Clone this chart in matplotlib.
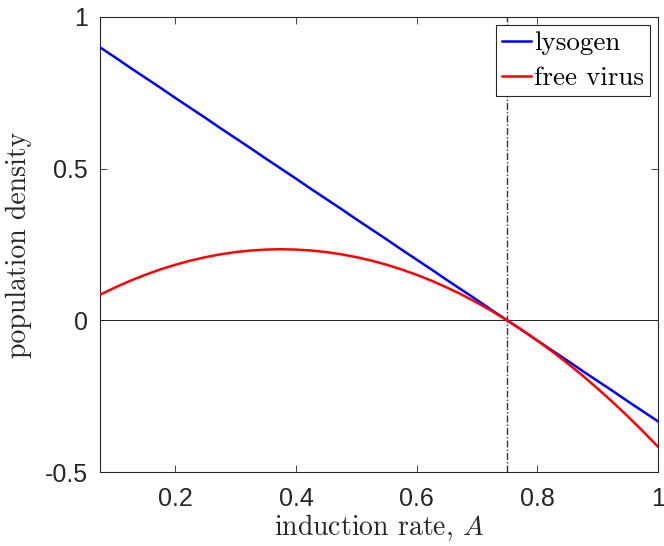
import matplotlib
matplotlib.use("Agg")
import matplotlib.pyplot as plt

# induction rate samples
induction_rate = [0.075, 0.1, 0.125, 0.15, 0.175, 0.2, 0.225, 0.25, 0.275, 0.3,
                  0.325, 0.35, 0.375, 0.4, 0.425, 0.45, 0.475, 0.5, 0.525, 0.55,
                  0.575, 0.6, 0.625, 0.65, 0.675, 0.7, 0.725, 0.75, 0.775, 0.8,
                  0.825, 0.85, 0.875, 0.9, 0.925, 0.95, 0.975, 1.0]
lysogen = [0.900, 0.867, 0.833, 0.800, 0.767, 0.733, 0.700, 0.667, 0.633, 0.600,
           0.567, 0.533, 0.500, 0.467, 0.433, 0.400, 0.367, 0.333, 0.300, 0.267,
           0.233, 0.200, 0.167, 0.133, 0.100, 0.067, 0.033, 0.000, -0.033, -0.067,
           -0.100, -0.133, -0.167, -0.200, -0.233, -0.267, -0.300, -0.333]
free_virus = [0.0844, 0.1083, 0.1302, 0.1500, 0.1677, 0.1833, 0.1969, 0.2083, 0.2177, 0.2250,
              0.2302, 0.2333, 0.2344, 0.2333, 0.2302, 0.2250, 0.2177, 0.2083, 0.1969, 0.1833,
              0.1677, 0.1500, 0.1302, 0.1083, 0.0844, 0.0583, 0.0302, 0.0000, -0.0323, -0.0667,
              -0.1031, -0.1417, -0.1823, -0.2250, -0.2698, -0.3167, -0.3656, -0.4167]
critical_A = 0.75
xticks = [0.2, 0.4, 0.6, 0.8, 1]
xticklabels = ["0.2", "0.4", "0.6", "0.8", "1"]
yticks = [-0.5, 0, 0.5, 1]
yticklabels = ["-0.5", "0", "0.5", "1"]

plt.rcParams['mathtext.fontset'] = 'cm'
fig = plt.figure(figsize=(6.64, 5.46), dpi=100)
ax = fig.add_axes([100/664, 1-472/546, 558/664, 455/546])

ax.axhline(0, color='black', lw=0.6, zorder=1)
ax.axvline(critical_A, color='#333333', lw=1.0, ls=(0, (5, 1.5, 1, 1.5)), zorder=1)
ax.plot(induction_rate, lysogen, color='#0000ff', lw=1.8, label='lysogen', zorder=3)
ax.plot(induction_rate, free_virus, color='#ff0000', lw=1.8, label='free virus', zorder=3)

ax.set_xlim(0.075, 1)
ax.set_ylim(-0.5, 1)
ax.set_xticks(xticks)
ax.set_xticklabels(xticklabels)
ax.set_yticks(yticks)
ax.set_yticklabels(yticklabels)
gray = '#262626'
for s in ax.spines.values():
    s.set_color(gray)
    s.set_linewidth(0.8)
ax.tick_params(direction='in', top=True, right=True, length=5, width=0.6,
               colors=gray, labelsize=18)
ax.tick_params(axis='x', pad=11)
ax.tick_params(axis='y', pad=9)
for lab in ax.get_xticklabels() + ax.get_yticklabels():
    lab.set_fontfamily('Liberation Sans')

ax.set_xlabel('induction rate, $A$', family='cmr10', fontsize=20, color=gray, labelpad=1)
ax.set_ylabel('population density', family='cmr10', fontsize=20, color=gray, labelpad=9)

leg = ax.legend(loc='upper right', prop={'family': 'cmr10', 'size': 19.5},
                frameon=True, fancybox=False, edgecolor=gray, framealpha=1,
                borderpad=0.22, handlelength=1.05, handletextpad=0.12,
                labelspacing=0.42, borderaxespad=0.3)
leg.get_frame().set_linewidth(0.8)

fig.savefig('out.png', dpi=100)
